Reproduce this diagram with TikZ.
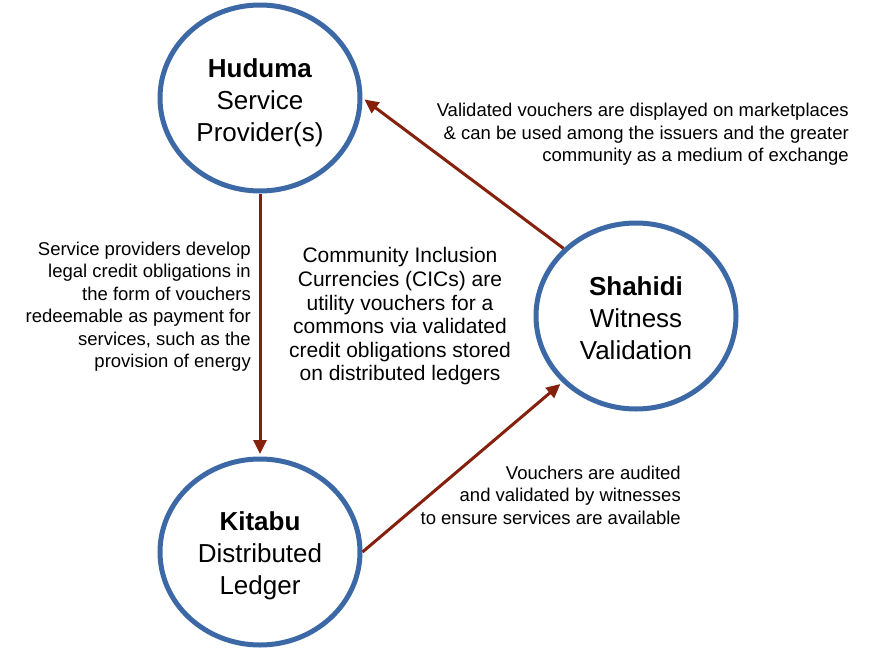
\documentclass[tikz,border=0pt]{standalone}
\usepackage{fontspec}
\setmainfont{Liberation Sans}
\usetikzlibrary{shapes.geometric,arrows.meta}
\tikzset{
  ring/.style = {ellipse, draw = ringcol, line width = 5pt, minimum width = 200pt, minimum height = 186pt, inner sep = 0pt, align = center, font = \fontsize{26}{32}\selectfont},
  note/.style = {inner sep = 0pt, align = right, anchor = east, font = \fontsize{18.5}{22.5}\selectfont},
  flow/.style = {draw = arrcol, line width = 3pt, shorten > = 2.5pt, -{Triangle[length = 14pt, width = 13pt]}}
}
\begin{document}
\begin{tikzpicture}[x = 1pt, y = -1pt]
\definecolor{ringcol}{HTML}{3C69A6}
\definecolor{arrcol}{HTML}{85200C}
\useasboundingbox (0, 0) rectangle (870, 664);
\node[ring] (huduma) at (260, 98) {\rule{0pt}{28pt}\textbf{Huduma}\\Service\\Provider(s)};
\node[ring] (kitabu) at (260, 552) {\rule{0pt}{27pt}\textbf{Kitabu}\\Distributed\\Ledger};
\node[ring] (shahidi) at (636, 316) {\rule{0pt}{24pt}\textbf{Shahidi}\\Witness\\Validation};
\node[note] (topnote) at (849, 134.5) {Validated vouchers are displayed on marketplaces\\\& can be used among the issuers and the greater\\community as a medium of exchange};
\node[note] (leftnote) at (251, 306.5) {Service providers develop\\legal credit obligations in\\the form of vouchers\\redeemable as payment for\\services, such as the\\provision of energy};
\node[note, align = center, anchor = center, font = \fontsize{21}{23.6}\selectfont] (midnote) at (400, 316.5) {Community Inclusion\\Currencies (CICs) are\\utility vouchers for a\\commons via validated\\credit obligations stored\\on distributed ledgers};
\node[note] (lownote) at (681, 495) {Vouchers are audited\\and validated by witnesses\\to ensure services are available};
\draw[flow] (huduma.south) -- (kitabu.north);
\draw[flow] (kitabu.east) -- (shahidi.222);
\draw[flow] (shahidi.137) -- (huduma.east);
\end{tikzpicture}
\end{document}
